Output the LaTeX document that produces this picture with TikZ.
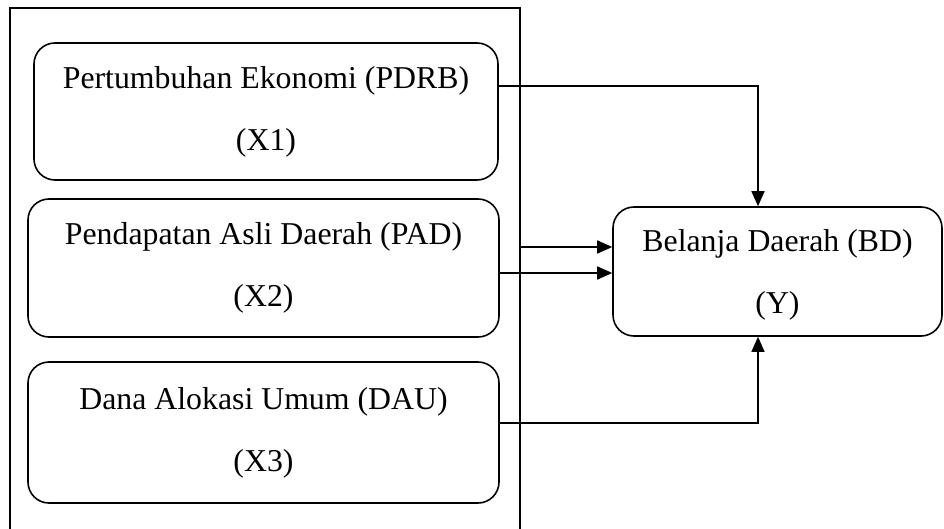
\documentclass[tikz,border=0pt]{standalone}
\usepackage{fontspec}
\setmainfont{Liberation Serif}
\usetikzlibrary{arrows.meta}
\newcommand{\firstlinegap}{\rule{0pt}{29pt}}
\begin{document}
\begin{tikzpicture}[x=1pt,y=-1pt,
  varbox/.style={draw,line width=1.6pt,rounded corners=21pt,inner sep=0pt,
    align=center,font=\fontsize{31.8}{62}\selectfont},
  link/.style={line width=1.6pt},
  arr/.style={link,-{Triangle[length=15pt,width=13pt]}}]
  \useasboundingbox (0,0) rectangle (944,529);
  % frame around the independent variables (open at the bottom)
  \coordinate (fbl) at (10,529);
  \coordinate (ftl) at (10,8);
  \coordinate (ftr) at (520,8);
  \coordinate (fbr) at (520,529);
  \draw[line width=1.5pt] (fbl) -- (ftl) -- (ftr) -- (fbr);
  % variables
  \node[varbox,minimum width=464pt,minimum height=137pt] (x1) at (266,111.5)
    {Pertumbuhan Ekonomi (PDRB)\\(X1)};
  \node[varbox,minimum width=471pt,minimum height=138pt] (x2) at (263.5,268)
    {Pendapatan Asli Daerah (PAD)\\(X2)};
  \node[varbox,minimum width=471pt,minimum height=141pt] (x3) at (263.5,432.5)
    {Dana Alokasi Umum (DAU)\\(X3)};
  \node[varbox,minimum width=329pt,minimum height=129pt] (bd) at (777.5,271.5)
    {\firstlinegap Belanja Daerah (BD)\\(Y)};
  % connectors
  \draw[arr] ([yshift=25.5pt]x1.east) -| ([xshift=-19.5pt]bd.north);
  \coordinate (fr) at (520,247);
  \draw[arr] (fr) -- (fr -| bd.west);
  \draw[arr] ([yshift=-5pt]x2.east) coordinate (p2) -- (p2 -| bd.west);
  \draw[arr] ([yshift=9.5pt]x3.east) -| ([xshift=-19.5pt]bd.south);
\end{tikzpicture}
\end{document}
